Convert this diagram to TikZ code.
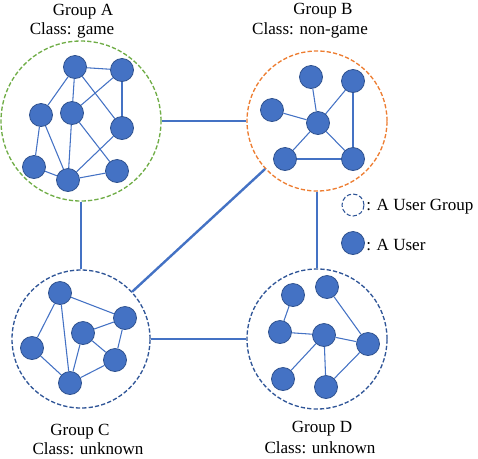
\documentclass[tikz,border=0pt]{standalone}
\usepackage{fontspec}
\setmainfont{Liberation Serif}
\usepackage{xcolor}
\usepackage{tikz}
\usetikzlibrary{positioning}

\definecolor{userblue}{HTML}{4472C4}
\definecolor{userline}{HTML}{2F528F}
\definecolor{gamegreen}{HTML}{70AD47}
\definecolor{nongameorange}{HTML}{ED7D31}
\definecolor{unknownblue}{HTML}{2F5597}

\begin{document}
\begin{tikzpicture}[
    x=0.75pt, y=-0.75pt,
    user/.style={circle, draw=userline, fill=userblue, line width=0.6pt, minimum size=17.25pt, inner sep=0pt},
    group/.style={circle, dashed, line width=1pt, dash pattern=on 3.2pt off 1.6pt, inner sep=0pt},
    link/.style={userblue, line width=0.8pt},
    bridge/.style={userblue, line width=1.8pt},
    label/.style={font=\fontsize{12.8}{15}\selectfont, inner sep=0pt, align=center}
]
    \useasboundingbox (0,0) rectangle (478,458);

    % user groups
    \node (gA) [group, draw=gamegreen, minimum size=120pt] at (81,121) {};
    \node (gB) [group, draw=nongameorange, minimum size=105pt] at (317,121) {};
    \node (gC) [group, draw=unknownblue, minimum size=103.5pt] at (81,339) {};
    \node (gD) [group, draw=unknownblue, minimum size=105pt] at (317,339) {};

    \draw [bridge] (gA) -- (gB);
    \draw [bridge] (gA) -- (gC);
    \draw [bridge] (gB) -- (gD);
    \draw [bridge] (gC) -- (gD);
    \draw [bridge] (gC) -- (gB);

    % group A
    \node (a1) [user] at (75,67) {};
    \node (a2) [user] at (122,70) {};
    \node (a3) [user] at (41,115) {};
    \node (a4) [user] at (72,113) {};
    \node (a5) [user] at (122,128) {};
    \node (a6) [user] at (34,167) {};
    \node (a7) [user] at (68,180) {};
    \node (a8) [user] at (117,171) {};
    \foreach \u/\v in {a1/a2, a1/a3, a1/a4, a1/a5, a2/a4, a2/a5, a3/a6, a3/a7, a4/a7, a4/a8, a5/a7, a6/a7, a7/a8}
        \draw [link] (\u) -- (\v);

    % group B
    \node (b1) [user] at (311,77) {};
    \node (b2) [user] at (353,81) {};
    \node (b3) [user] at (272,110) {};
    \node (b4) [user] at (318,123) {};
    \node (b5) [user] at (285,159) {};
    \node (b6) [user] at (353,159) {};
    \foreach \u/\v in {b1/b4, b2/b4, b2/b6, b3/b4, b4/b5, b4/b6, b5/b6}
        \draw [link] (\u) -- (\v);

    % group C
    \node (c1) [user] at (60,293) {};
    \node (c2) [user] at (125,318) {};
    \node (c3) [user] at (83,333) {};
    \node (c4) [user] at (32,348) {};
    \node (c5) [user] at (115,360) {};
    \node (c6) [user] at (70,383) {};
    \foreach \u/\v in {c1/c2, c1/c4, c1/c6, c3/c2, c3/c5, c3/c6, c2/c5, c4/c6, c5/c6}
        \draw [link] (\u) -- (\v);

    % group D
    \node (d1) [user] at (293,295) {};
    \node (d2) [user] at (327,287) {};
    \node (d3) [user] at (280,332) {};
    \node (d4) [user] at (324,335) {};
    \node (d5) [user] at (368,344) {};
    \node (d6) [user] at (283,379) {};
    \node (d7) [user] at (326,387) {};
    \foreach \u/\v in {d1/d3, d2/d5, d3/d4, d4/d5, d4/d6, d4/d7, d5/d7}
        \draw [link] (\u) -- (\v);

    % captions
    \node (tA) [label] at (83,12) {Group A};
    \node (cA) [label] at (72,30) {Class: game};
    \node (tB) [label] at (323,11) {Group B};
    \node (cB) [label] at (310,30) {Class: non-game};
    \node (tC) [label] at (80,432) {Group C};
    \node (cC) [label] at (88,449) {Class: unknown};
    \node (tD) [label] at (322,429) {Group D};
    \node (cD) [label] at (320,448) {Class: unknown};

    % legend
    \node (lg) [group, draw=unknownblue, line width=0.8pt, minimum size=16.5pt] at (353,205) {};
    \node (lgt) [label, anchor=west] at (366,207) {: A User Group};
    \node (lu) [user] at (353,243) {};
    \node (lut) [label, anchor=west] at (366,245) {: A User};
\end{tikzpicture}
\end{document}
